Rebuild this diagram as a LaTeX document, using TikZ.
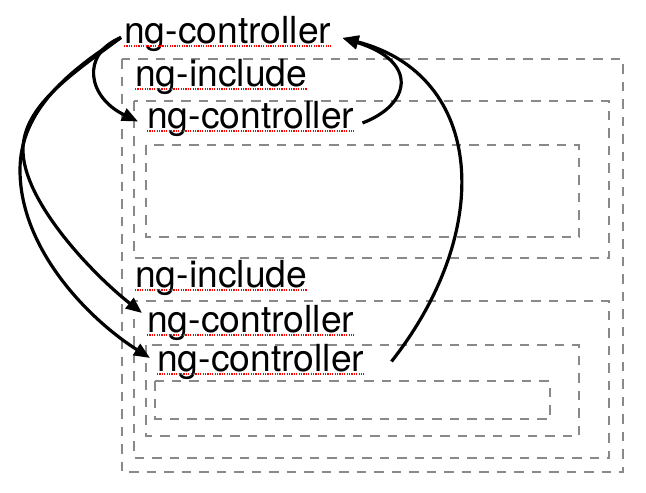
\documentclass[tikz,border=0pt]{standalone}
\usepackage{fontspec}
\setmainfont{TeX Gyre Heros}
\usepackage{xcolor}
\usetikzlibrary{arrows.meta}

\definecolor{framegray}{RGB}{137,137,140}

\begin{document}
\begin{tikzpicture}[x=1pt, y=-1pt,
    scopebox/.style={draw=framegray, line width=2.8pt, dash pattern=on 9.5pt off 8pt},
    tagtext/.style={anchor=base west, inner sep=0pt, font=\fontsize{37.3}{40}\selectfont},
    typo/.style={red, line width=1.2pt, dash pattern=on 1.2pt off 1.2pt},
    arrow/.style={-{Triangle[length=16pt, width=13pt]}, line width=3.2pt}
]
\useasboundingbox (0,0) rectangle (646,493);

% nested scopes
\draw[scopebox] (122,59) rectangle (623,472);
\draw[scopebox] (134,101) rectangle (609,258);
\draw[scopebox] (146,145) rectangle (579,237);
\draw[scopebox] (134,301) rectangle (609,458);
\draw[scopebox] (146,345) rectangle (579,436);
\draw[scopebox] (155,381) rectangle (550,419);

\node[tagtext] (ctlA) at (124,43) {ng-controller};
\node[tagtext] (incA) at (135,86) {ng-include};
\node[tagtext] (ctlB) at (147,128) {ng-controller};
\node[tagtext] (incB) at (135,287) {ng-include};
\node[tagtext] (ctlC) at (147,332) {ng-controller};
\node[tagtext] (ctlD) at (157,371) {ng-controller};

\foreach \n in {ctlA,incA,ctlB,incB,ctlC,ctlD}
    \draw[typo] ([yshift=-3pt]\n.base west) -- ([yshift=-3pt]\n.base east);

% inheritance from the top controller
\draw[arrow] ([xshift=-3pt,yshift=-4pt]ctlA.west)
    .. controls +(-41,17) and +(-50,-24) .. ([xshift=-9pt,yshift=-3pt]ctlB.west);
\draw[arrow] ([xshift=-3pt,yshift=-4pt]ctlA.west)
    .. controls (75,72) and (23,105) .. (23,150)
    .. controls (23,200) and (90,272) .. ([xshift=-5pt,yshift=9.5pt]ctlC.west);
\draw[arrow] ([xshift=-3pt,yshift=-4pt]ctlA.west)
    .. controls (70,70) and (20,110) .. (20,170)
    .. controls (20,250) and (90,320) .. ([xshift=-7pt,yshift=3.5pt]ctlD.west);

% back to the top controller
\draw[arrow] ([xshift=8pt,yshift=-4.5pt]ctlB.east)
    .. controls (410,105) and (420,62) .. ([xshift=11pt,yshift=-4.5pt]ctlA.east);
\draw[arrow] ([xshift=27pt]ctlD.east)
    .. controls (495,230) and (485,75) .. ([xshift=11pt,yshift=-4.5pt]ctlA.east);
\end{tikzpicture}
\end{document}
